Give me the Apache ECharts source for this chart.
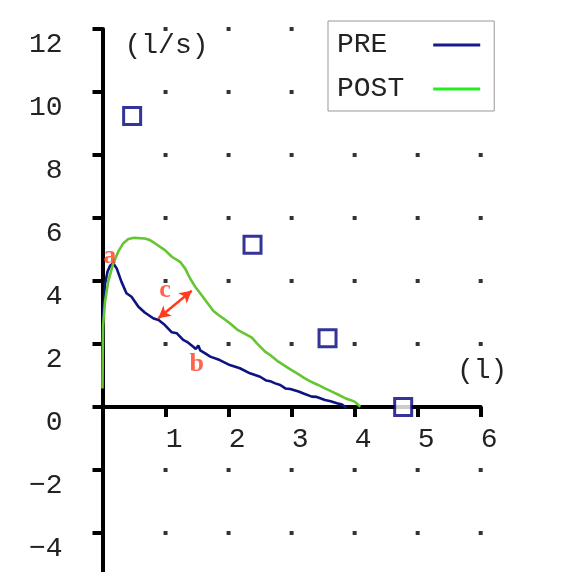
<!DOCTYPE html>
<html><head><meta charset="utf-8">
<script src="https://cdn.jsdelivr.net/npm/echarts@6/dist/echarts.min.js"></script>
<style>html,body{margin:0;padding:0;background:#fff}#c{width:588px;height:572px}</style>
</head><body><div id="c"></div>
<script>
// PRE flow-volume curve (volume l, flow l/s)
const preVolume = [0, 0.005, 0.015, 0.04, 0.08, 0.12, 0.17, 0.225, 0.30, 0.38, 0.46, 0.57, 0.67, 0.81, 0.89, 0.99, 1.10, 1.18, 1.28, 1.34, 1.44, 1.48, 1.52, 1.55, 1.63, 1.71, 1.86, 2.02, 2.18, 2.34, 2.50, 2.60, 2.66, 2.74, 2.82, 2.90, 2.98, 3.11, 3.20, 3.32, 3.40, 3.53, 3.62, 3.72, 3.80, 3.87];
const preFlow   = [0.6, 2.0, 3.1, 3.9, 4.3, 4.48, 4.56, 4.40, 3.98, 3.61, 3.50, 3.18, 3.00, 2.81, 2.76, 2.60, 2.37, 2.34, 2.13, 2.07, 1.91, 1.84, 1.95, 1.80, 1.70, 1.60, 1.49, 1.33, 1.23, 1.07, 0.96, 0.84, 0.82, 0.75, 0.70, 0.59, 0.57, 0.49, 0.42, 0.33, 0.32, 0.22, 0.18, 0.12, 0.08, -0.03];
// POST flow-volume curve
const postVolume = [0, 0.005, 0.01, 0.04, 0.09, 0.17, 0.25, 0.33, 0.41, 0.50, 0.67, 0.75, 0.83, 0.99, 1.10, 1.23, 1.31, 1.39, 1.47, 1.55, 1.65, 1.76, 1.84, 1.92, 2.02, 2.15, 2.29, 2.37, 2.45, 2.58, 2.66, 2.79, 2.90, 3.00, 3.10, 3.21, 3.31, 3.42, 3.53, 3.64, 3.75, 3.85, 3.93, 4.00, 4.09];
const postFlow   = [0.59, 1.76, 2.6, 3.34, 3.98, 4.56, 4.93, 5.20, 5.33, 5.37, 5.35, 5.30, 5.20, 4.98, 4.77, 4.61, 4.40, 4.08, 3.82, 3.61, 3.34, 3.05, 2.92, 2.81, 2.66, 2.44, 2.29, 2.20, 2.02, 1.76, 1.65, 1.44, 1.30, 1.17, 1.05, 0.91, 0.80, 0.70, 0.59, 0.49, 0.38, 0.28, 0.22, 0.17, 0.01];
// predicted values (squares)
const predVolume = [0.47, 2.38, 3.57, 4.77];
const predFlow   = [9.24, 5.15, 2.18, 0.0];
// ticks
const xTicks = [1, 2, 3, 4, 5, 6];
const yTicks = [12, 10, 8, 6, 4, 2, -2, -4];
// annotations
const noteText   = ['a', 'b', 'c'];
const noteVolume = [0.114, 1.495, 0.99];
const noteFlow   = [4.8, 1.36, 3.69];
const arrowVolume = [0.886, 1.415];
const arrowFlow   = [2.82, 3.69];
const seriesNames = ['PRE', 'POST'];

const NAVY = '#0c1480', GREEN = '#64c630', RED = '#ff3c1e';
const MONO = 'Liberation Mono';
const Y_MIN = -6, Y_MAX = 12, GRID_TOP = 29, GRID_BOTTOM = -24, H = 572;
const pairs = (xs, ys) => xs.map((x, i) => [x, ys[i]]);
const dots = [];
xTicks.forEach(x => yTicks.forEach(y => dots.push([x, y])));
// shift the x axis from the grid bottom up to flow = 0
const plotH = H - GRID_TOP - GRID_BOTTOM;
const xAxisOffset = -plotH * (0 - Y_MIN) / (Y_MAX - Y_MIN);

const chart = echarts.init(document.getElementById('c'));
chart.setOption({
  animation: false,
  backgroundColor: '#fff',
  grid: { left: 102.5, right: 107.3, top: GRID_TOP, bottom: GRID_BOTTOM, outerBoundsMode: 'none', containLabel: false },
  legend: {
    orient: 'vertical', left: 328, top: 21, align: 'right',
    backgroundColor: '#fff', borderColor: '#999', borderWidth: 1,
    padding: [9, 14, 7, 9], itemWidth: 47, itemHeight: 3, itemGap: 14,
    textStyle: { fontFamily: MONO, fontSize: 28, color: '#222', lineHeight: 30, padding: [0, 24, 0, 0] },
    formatter: n => n.padEnd(4, ' '),
    data: [
      { name: seriesNames[0], icon: 'rect', itemStyle: { color: '#1a1a8c' } },
      { name: seriesNames[1], icon: 'rect', itemStyle: { color: '#22ee22' } }
    ]
  },
  xAxis: {
    type: 'value', min: 0, max: 6, interval: 1, position: 'bottom', offset: xAxisOffset,
    name: '(l)', nameLocation: 'end', nameGap: 0,
    nameTextStyle: { fontFamily: MONO, fontSize: 28, color: '#222', align: 'center', verticalAlign: 'bottom', padding: [0, 0, 22, 3] },
    axisLine: { onZero: false, lineStyle: { color: '#000', width: 4 } },
    axisTick: { show: true, length: 10, lineStyle: { color: '#000', width: 4 } },
    axisLabel: { showMinLabel: false, fontFamily: MONO, fontSize: 28, color: '#222', margin: 8, verticalAlign: 'top', padding: [11, 0, 0, 17] },
    splitLine: { show: false }
  },
  yAxis: {
    type: 'value', min: Y_MIN, max: Y_MAX, interval: 2,
    name: '(l/s)', nameLocation: 'end', nameGap: -17,
    nameTextStyle: { fontFamily: MONO, fontSize: 28, color: '#222', align: 'left', verticalAlign: 'middle', padding: [0, 0, 0, 22] },
    axisLine: { onZero: false, lineStyle: { color: '#000', width: 4 } },
    axisTick: { show: true, length: 10, lineStyle: { color: '#000', width: 4 } },
    axisLabel: {
      fontFamily: MONO, fontSize: 28, color: '#222', margin: 8, verticalAlign: 'top', padding: [2, 32, 0, 0],
      formatter: v => v < 0 ? '\u2212' + Math.abs(v) : String(v)
    },
    splitLine: { show: false }
  },
  series: [
    { type: 'scatter', name: 'grid', data: dots, symbol: 'rect', symbolSize: 4, itemStyle: { color: '#000' }, silent: true, z: 1 },
    { type: 'line', name: seriesNames[0], data: pairs(preVolume, preFlow), showSymbol: false, symbol: 'none', lineStyle: { color: NAVY, width: 2.6 }, itemStyle: { color: NAVY }, z: 3 },
    { type: 'line', name: seriesNames[1], data: pairs(postVolume, postFlow), showSymbol: false, symbol: 'none', lineStyle: { color: GREEN, width: 2.6 }, itemStyle: { color: GREEN }, z: 4 },
    { type: 'scatter', name: 'pred', data: pairs(predVolume, predFlow), symbol: 'rect', symbolSize: 17, itemStyle: { color: '#fff', borderColor: '#000080', borderWidth: 3 }, z: 5, silent: true },
    {
      type: 'scatter', name: 'notes', z: 6, silent: true,
      data: noteText.map((t, i) => ({ name: t, value: [noteVolume[i], noteFlow[i]] })),
      symbolSize: 1, itemStyle: { color: 'rgba(0,0,0,0)' },
      label: { show: true, position: 'inside', formatter: p => p.name, color: RED, fontFamily: 'Liberation Serif', fontWeight: 'bold', fontSize: 26, align: 'center', verticalAlign: 'middle' },
      markLine: {
        silent: true, symbol: ['arrow', 'arrow'], symbolSize: [10, 12],
        lineStyle: { color: RED, width: 2.5, type: 'solid' },
        label: { show: false },
        data: [[{ coord: [arrowVolume[0], arrowFlow[0]] }, { coord: [arrowVolume[1], arrowFlow[1]] }]]
      }
    }
  ]
});
</script></body></html>
